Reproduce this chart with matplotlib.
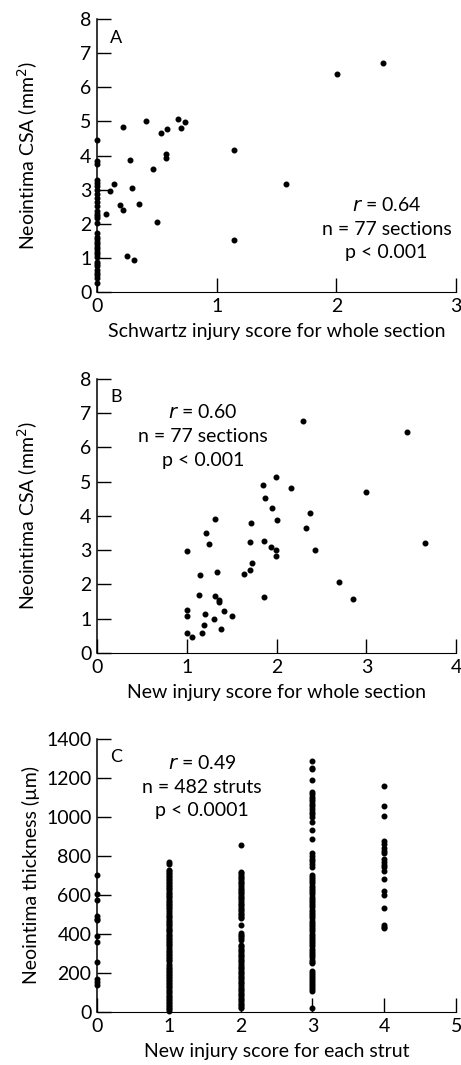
import numpy as np
import matplotlib
matplotlib.use('Agg')
import matplotlib.pyplot as plt

plt.rcParams['font.family'] = ['Lato', 'DejaVu Sans']

# panel A: Schwartz injury score vs neointima CSA
a_zero_y = [4.46, 3.83, 3.76, 3.27, 3.19, 3.10, 2.98, 2.88, 2.77, 2.64, 2.51, 2.38,
            2.30, 2.23, 2.17, 2.01, 1.72, 1.62, 1.55, 1.48, 1.41, 1.33, 1.25, 1.18,
            1.11, 1.04, 0.89, 0.82, 0.75, 0.65, 0.57, 0.50, 0.41, 0.26]
a_x = [2.387, 2.008, 1.145, 1.58, 1.145, 0.409, 0.674, 0.735, 0.70, 0.587, 0.537,
       0.217, 0.574, 0.574, 0.465, 0.273, 0.145, 0.108, 0.293, 0.196, 0.217, 0.354,
       0.072, 0.50, 0.253, 0.31]
a_y = [6.72, 6.38, 4.17, 3.18, 1.53, 5.00, 5.06, 4.97, 4.80, 4.79, 4.67,
       4.84, 4.05, 3.94, 3.62, 3.88, 3.17, 2.96, 3.06, 2.55, 2.40, 2.57,
       2.30, 2.06, 1.06, 0.94]

# panel B: new injury score vs neointima CSA
b_x = [2.295, 3.45, 1.998, 1.853, 2.165, 2.997, 1.872, 1.954, 2.377, 2.002, 1.716,
       1.318, 2.329, 1.211, 1.252, 1.70, 1.857, 1.939, 1.998, 2.433, 3.655, 1.003,
       1.998, 1.731, 1.705, 1.634, 1.148, 1.337, 2.696, 1.137, 1.311, 1.363, 1.355,
       1.857, 2.852, 1.003, 1.003, 1.415, 1.20, 1.504, 1.30, 1.192, 1.385, 1.003,
       1.17, 1.058]
b_y = [6.76, 6.45, 5.14, 4.89, 4.83, 4.71, 4.51, 4.22, 4.08, 3.87, 3.80,
       3.92, 3.66, 3.49, 3.19, 3.23, 3.27, 3.10, 3.02, 3.02, 3.21, 2.99,
       2.83, 2.64, 2.43, 2.30, 2.29, 2.36, 2.08, 1.68, 1.67, 1.54, 1.50,
       1.62, 1.57, 1.25, 1.09, 1.23, 1.13, 1.08, 0.98, 0.81, 0.70, 0.58,
       0.58, 0.46]

# panel C: new injury score per strut vs neointima thickness
c0 = [703, 605, 575, 490, 478, 470, 390, 358, 255, 168, 152, 138]
c1 = [768, 760, 728, 721, 713, 707, 699, 690, 683, 677, 668, 661, 651, 646, 636,
      629, 620, 611, 605, 596, 589, 580, 571, 566, 556, 549, 539, 532, 522, 514,
      502, 493, 485, 475, 469, 460, 450, 444, 435, 428, 419, 413, 403, 395, 389,
      379, 372, 363, 357, 347, 341, 331, 325, 315, 308, 299, 293, 283, 276, 268,
      259, 246, 238, 228, 222, 212, 206, 196, 189, 180, 174, 164, 158, 148, 141,
      132, 126, 116, 109, 100, 93, 84, 77, 68, 61, 52, 46, 36, 29, 21, 13, 6]
c2 = [857, 720, 711, 703, 694, 686, 676, 669, 660, 651, 643, 633, 626, 617, 608,
      598, 591, 582, 574, 565, 556, 548, 539, 530, 522, 513, 504, 496, 486, 481,
      447, 405, 397, 388, 379, 370, 345, 337, 328, 319, 311, 302, 294, 285, 276,
      268, 259, 250, 242, 233, 224, 216, 207, 198, 190, 181, 172, 164, 155, 146,
      138, 129, 120, 112, 103, 94, 86, 77, 68, 60, 51, 42, 34, 25, 20]
c3 = [1287, 1253, 1246, 1190, 1130, 1118, 1105, 1092, 1080, 1067, 1054, 1041, 1028,
      1015, 1002, 976, 934, 888, 815, 801, 787, 773, 760, 746, 703, 693, 681, 670,
      659, 648, 637, 626, 614, 603, 592, 581, 570, 559, 547, 536, 525, 514, 503,
      492, 481, 469, 458, 447, 436, 425, 414, 402, 391, 380, 369, 358, 347, 336,
      324, 313, 302, 291, 280, 269, 258, 251, 208, 198, 188, 178, 168, 158, 147,
      137, 127, 116, 106, 22]
c4 = [1157, 1058, 1005, 878, 860, 843, 828, 814, 785, 767, 755, 741, 724, 683, 621,
      601, 533, 444, 437, 430]

fig = plt.figure(figsize=(4.61, 10.65), dpi=100)
ax_a = fig.add_axes([0.2104, 0.7258, 0.779, 0.2563])
ax_b = fig.add_axes([0.2104, 0.3869, 0.779, 0.2573])
ax_c = fig.add_axes([0.2104, 0.0498, 0.779, 0.2563])


def style(ax, xmax, ymax, ystep):
    ax.set_xlim(0, xmax)
    ax.set_ylim(0, ymax)
    ax.set_xticks(np.arange(0, xmax + 1, 1))
    ax.set_yticks(np.arange(0, ymax + 1, ystep))
    for s in ['top', 'right']:
        ax.spines[s].set_visible(False)
    ax.spines['left'].set_linewidth(1.1)
    ax.spines['bottom'].set_linewidth(0.8)
    ax.tick_params(direction='in', length=10, width=1.0, labelsize=14)
    ax.tick_params(axis='x', pad=4)
    ax.tick_params(axis='y', pad=4)
    ax.xaxis.set_label_coords(0.5, -0.115)
    ax.yaxis.set_label_coords(-0.16, 0.5)


dot = dict(color='black', marker='o', linestyle='none', markersize=3.3, clip_on=False)
stat = dict(fontsize=14, ha='center', va='center')

ax_a.plot(np.zeros(len(a_zero_y)), a_zero_y, **dot)
ax_a.plot(a_x, a_y, **dot)
style(ax_a, 3, 8, 1)
ax_a.set_xlabel('Schwartz injury score for whole section', fontsize=14)
ax_a.set_ylabel('Neointima CSA (mm$^2$)', fontsize=14)
ax_a.text(0.054, 0.932, 'A', transform=ax_a.transAxes, fontsize=13, ha='center', va='center')
ax_a.text(2.42, 2.54, '$r$ = 0.64', **stat)
ax_a.text(2.42, 1.84, 'n = 77 sections', **stat)
ax_a.text(2.42, 1.17, 'p < 0.001', **stat)

ax_b.plot(b_x, b_y, **dot)
style(ax_b, 4, 8, 1)
ax_b.set_xlabel('New injury score for whole section', fontsize=14)
ax_b.set_ylabel('Neointima CSA (mm$^2$)', fontsize=14)
ax_b.text(0.054, 0.935, 'B', transform=ax_b.transAxes, fontsize=13, ha='center', va='center')
ax_b.text(1.18, 7.02, '$r$ = 0.60', **stat)
ax_b.text(1.18, 6.32, 'n = 77 sections', **stat)
ax_b.text(1.18, 5.63, 'p < 0.001', **stat)

for xv, col in enumerate([c0, c1, c2, c3, c4]):
    ax_c.plot(np.full(len(col), xv), col, **dot)
style(ax_c, 5, 1400, 200)
ax_c.set_xlabel('New injury score for each strut', fontsize=14)
ax_c.set_ylabel('Neointima thickness (\u00b5m)', fontsize=14)
ax_c.text(0.054, 0.934, 'C', transform=ax_c.transAxes, fontsize=13, ha='center', va='center')
ax_c.text(1.46, 1279, '$r$ = 0.49', **stat)
ax_c.text(1.46, 1153, 'n = 482 struts', **stat)
ax_c.text(1.46, 1033, 'p < 0.0001', **stat)

fig.savefig('out.png', dpi=100)
